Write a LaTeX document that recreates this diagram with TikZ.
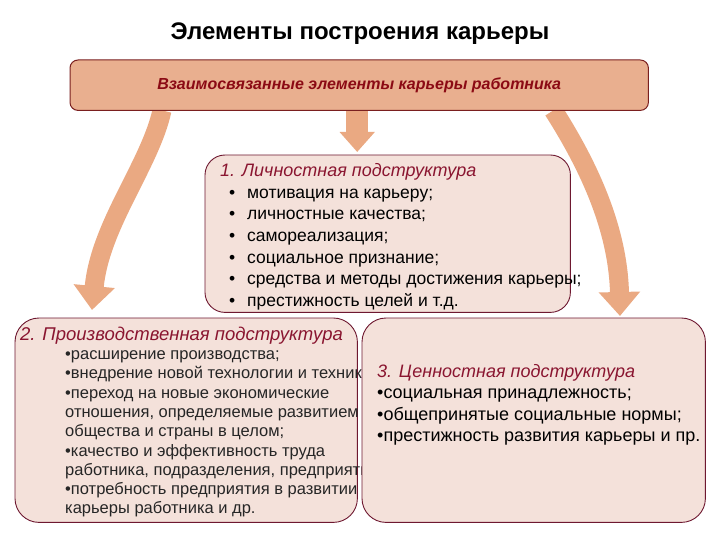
\documentclass[tikz,border=0pt]{standalone}
\usepackage{fontspec}
\setmainfont{Liberation Sans}
\usetikzlibrary{arrows.meta}
\definecolor{arrowc}{HTML}{EAA982}
\definecolor{topfill}{HTML}{E9AF8F}
\definecolor{topline}{HTML}{7A1F1F}
\definecolor{boxfill}{HTML}{F4E1DA}
\definecolor{boxline}{HTML}{6E1830}
\definecolor{headc}{HTML}{8A1530}
\definecolor{toptext}{HTML}{8B0A14}
\newcommand{\firstline}{\rule{0pt}{12pt}}
\newcommand{\bul}{\hspace*{9pt}\makebox[18pt][l]{•}}
\tikzset{
  geom/.style={inner sep=0pt, anchor=north west, draw=none, fill=none},
  boxshape/.style={draw=boxline, line width=0.9pt, fill=boxfill},
  bigarrow/.style={draw=arrowc, line width=19pt, -{Triangle[width=40pt,length=24pt]}},
  midarrow/.style={draw=arrowc, line width=22pt, -{Triangle[width=34pt,length=20pt]}},
  txt/.style={anchor=north west, inner sep=0pt, align=left},
}
\begin{document}
\begin{tikzpicture}[x=1pt,y=-1pt]
\useasboundingbox (0,0) rectangle (720,540);
% title
\node[inner sep=0pt, font=\fontsize{24}{28}\selectfont\bfseries] (title) at (360,34) {Элементы построения карьеры};
% box geometry
\node[geom, minimum width=578pt, minimum height=50pt] (top) at (70,60) {};
\node[geom, minimum width=365pt, minimum height=157pt] (b1) at (205,155) {};
\node[geom, minimum width=342pt, minimum height=204pt] (b2) at (15,318) {};
\node[geom, minimum width=343pt, minimum height=204pt] (b3) at (362,318) {};
% arrows
\draw[bigarrow] ([xshift=92pt]top.south west) .. controls (150,165) and (100,225) .. ([xshift=77pt,yshift=8pt]b2.north west);
\draw[bigarrow] ([xshift=-95pt]top.south east) .. controls (585,160) and (618,225) .. ([xshift=258pt,yshift=2pt]b3.north west);
\draw[midarrow] ([xshift=-2pt]top.south) -- ([xshift=-2pt,yshift=3pt]top.south |- b1.north);
% top box
\draw[draw=topline, line width=1pt, fill=topfill, rounded corners=8pt] (top.north west) rectangle (top.south east);
\node[inner sep=0pt, text=toptext, font=\fontsize{16}{19}\selectfont\bfseries\itshape] (toplabel) at (top.center) {Взаимосвязанные элементы карьеры работника};
% box 1
\draw[boxshape, rounded corners=20pt] (b1.north west) rectangle (b1.south east);
\node[txt, font=\fontsize{17.5}{21.6}\selectfont] (t1) at (220,163.5) {%
  \firstline{\color{headc}\fontsize{18}{21.6}\selectfont\itshape 1. Личностная подструктура}\\
  \bul мотивация на карьеру;\\
  \bul личностные качества;\\
  \bul самореализация;\\
  \bul социальное признание;\\
  \bul средства и методы достижения карьеры;\\
  \bul престижность целей и т.д.};
% box 2
\draw[boxshape, rounded corners=24pt] (b2.north west) rectangle (b2.south east);
\node[txt, text=headc, font=\fontsize{18.5}{21}\selectfont\itshape] (h2) at (20,326.6) {\firstline 2. Производственная подструктура};
\node[txt, text=black!85, font=\fontsize{16.5}{19.3}\selectfont] (t2) at (65,347.3) {%
  \firstline•расширение производства;\\
  •внедрение новой технологии и техники;\\
  •переход на новые экономические\\
  отношения, определяемые развитием\\
  общества и страны в целом;\\
  •качество и эффективность труда\\
  работника, подразделения, предприятия;\\
  •потребность предприятия в развитии\\
  карьеры работника и др.};
% box 3
\draw[boxshape, rounded corners=24pt] (b3.north west) rectangle (b3.south east);
\node[txt, font=\fontsize{18}{21.3}\selectfont] (t3) at (377,364.4) {%
  \firstline{\color{headc}\itshape 3. Ценностная подструктура}\\
  •социальная принадлежность;\\
  •общепринятые социальные нормы;\\
  •престижность развития карьеры и пр.};
\end{tikzpicture}
\end{document}
